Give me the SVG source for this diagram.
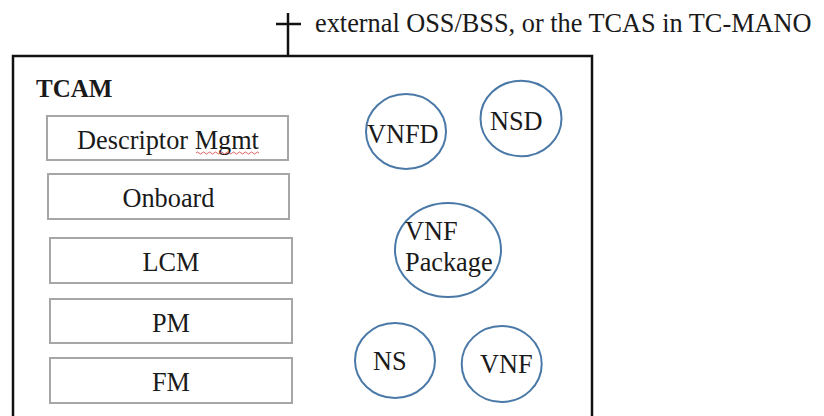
<svg xmlns="http://www.w3.org/2000/svg" width="824" height="416" viewBox="0 0 824 416">
  <style>
    text { font-family: 'Liberation Serif', 'Times New Roman', Times, serif; font-size: 26.3px; fill: #1a1a1a; }
    .title { font-weight: bold; font-size: 25px; }
    .mid { text-anchor: middle; }
    .func { fill: #ffffff; stroke: #a6a6a6; stroke-width: 2; }
    .info { fill: none; stroke: #4a79a8; stroke-width: 2; }
    .edge { stroke: #111111; stroke-width: 2.5; fill: none; }
  </style>
  <rect width="824" height="416" fill="#ffffff"/>

  <g font-family="Liberation Serif, serif">
  <!-- TCAM container -->
  <g id="tcam">
    <rect x="13" y="56" width="579" height="380" fill="none" stroke="#111111" stroke-width="2.5"/>
    <text class="title" x="36" y="97">TCAM</text>
  </g>

  <!-- external interface point -->
  <g id="connectors">
    <line class="edge" x1="288" y1="13" x2="288" y2="56"/>
    <line class="edge" x1="276" y1="24" x2="301" y2="24"/>
  </g>
  <g id="external">
    <text x="315" y="32">external OSS/BSS, or the TCAS in TC-MANO</text>
  </g>

  <!-- functional blocks -->
  <g id="descriptor-mgmt">
    <rect class="func" x="47" y="116" width="241" height="44"/>
    <text class="mid" x="168" y="149">Descriptor Mgmt</text>
    <path d="M196 153 q1.5 -2 3 0 t3 0 t3 0 t3 0 t3 0 t3 0 t3 0 t3 0 t3 0 t3 0 t3 0 t3 0 t3 0 t3 0 t3 0 t3 0 t3 0 t3 0 t3 0 t3 0 t3 0" fill="none" stroke="#e05050" stroke-width="0.9"/>
  </g>
  <g id="onboard">
    <rect class="func" x="48" y="174" width="241" height="45"/>
    <text class="mid" x="168.5" y="207">Onboard</text>
  </g>
  <g id="lcm">
    <rect class="func" x="50" y="238" width="242" height="45"/>
    <text class="mid" x="171" y="271">LCM</text>
  </g>
  <g id="pm">
    <rect class="func" x="50" y="299" width="242" height="44"/>
    <text class="mid" x="171" y="332">PM</text>
  </g>
  <g id="fm">
    <rect class="func" x="50" y="358" width="242" height="45"/>
    <text class="mid" x="171" y="391">FM</text>
  </g>

  <!-- managed information objects -->
  <g id="vnfd">
    <ellipse class="info" cx="406" cy="131.5" rx="40" ry="37.5"/>
    <text x="367" y="143">VNFD</text>
  </g>
  <g id="nsd">
    <ellipse class="info" cx="521" cy="118.5" rx="40.5" ry="37.7"/>
    <text x="490" y="130">NSD</text>
  </g>
  <g id="vnf-package">
    <ellipse class="info" cx="448" cy="250" rx="53" ry="47"/>
    <text x="405" y="240">VNF</text>
    <text x="405" y="271">Package</text>
  </g>
  <g id="ns">
    <ellipse class="info" cx="395" cy="360.5" rx="40" ry="37.5"/>
    <text x="373" y="370">NS</text>
  </g>
  <g id="vnf">
    <ellipse class="info" cx="501.7" cy="364" rx="40" ry="38"/>
    <text x="480" y="373">VNF</text>
  </g>
  </g>
</svg>
